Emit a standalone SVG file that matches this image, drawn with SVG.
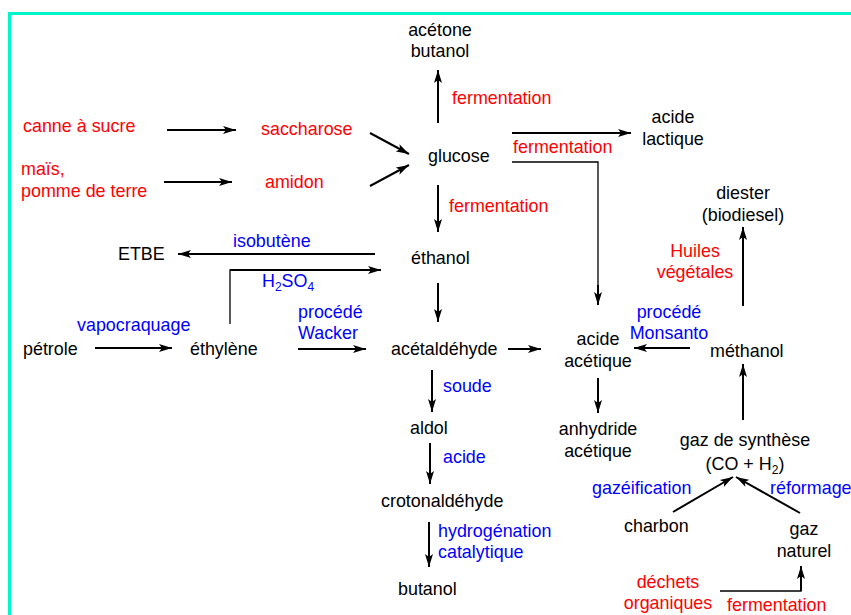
<svg xmlns="http://www.w3.org/2000/svg" width="851" height="615" viewBox="0 0 851 615">
<defs>
<marker id="ah" markerWidth="14" markerHeight="10" refX="13" refY="5" orient="auto" markerUnits="userSpaceOnUse">
<path d="M0,1 L13,5 L0,9 L3,5 Z" fill="#000"/>
</marker>
<style>
text{font-family:"Liberation Sans",Arial,Helvetica,sans-serif;font-size:17.9px;fill:#000}
.r{fill:#f00}
.b{fill:#0000ff}
.m{text-anchor:middle}
.a{stroke:#000;stroke-width:2;fill:none;marker-end:url(#ah)}
.t{stroke:#000;stroke-width:1.3;fill:none}
.sub{font-size:12px}
</style>
</defs>
<rect x="9.5" y="13.5" width="860" height="620" fill="#fff" stroke="#00f5cc" stroke-width="3"/>

<g id="connectors">
<line class="a" x1="438" y1="123" x2="438" y2="70"/>
<line class="a" x1="167" y1="130" x2="236" y2="130"/>
<line class="a" x1="164" y1="182" x2="232" y2="182"/>
<line class="a" x1="370" y1="133" x2="409" y2="154"/>
<line class="a" x1="370" y1="186" x2="409" y2="165"/>
<line class="a" x1="438" y1="185" x2="438" y2="232"/>
<line class="a" x1="512" y1="133" x2="631" y2="133"/>
<path class="t" d="M512,162 H598 V290"/>
<line class="a" x1="598" y1="285" x2="598" y2="305"/>
<line class="a" x1="375" y1="254" x2="178" y2="254"/>
<path class="t" d="M230,324 V270 H300"/>
<line class="a" x1="230" y1="270" x2="381" y2="270"/>
<line class="a" x1="438" y1="283" x2="438" y2="322"/>
<line class="a" x1="95" y1="348" x2="172" y2="348"/>
<line class="a" x1="298" y1="349" x2="366" y2="349"/>
<line class="a" x1="508" y1="349" x2="541" y2="349"/>
<line class="a" x1="690" y1="348" x2="634" y2="348"/>
<line class="a" x1="743" y1="306" x2="743" y2="227"/>
<line class="a" x1="743" y1="420" x2="743" y2="364"/>
<line class="a" x1="432" y1="370" x2="432" y2="412"/>
<line class="a" x1="430" y1="443" x2="430" y2="484"/>
<line class="a" x1="429" y1="522" x2="429" y2="567"/>
<line class="a" x1="598" y1="378" x2="598" y2="413"/>
<line class="a" x1="673" y1="512" x2="733" y2="477"/>
<line class="a" x1="800" y1="513" x2="736" y2="477"/>
<path class="t" d="M720,591 H801 V580"/>
<line class="a" x1="801" y1="591" x2="801" y2="566"/>
</g>

<g id="acetone-butanol"><text class="m" x="440" y="36">acétone</text><text class="m" x="440" y="57">butanol</text></g>
<g id="lbl-ferm1"><text class="r" x="452" y="104">fermentation</text></g>
<g id="canne"><text class="r" x="23" y="132">canne à sucre</text></g>
<g id="saccharose"><text class="r" x="261" y="135">saccharose</text></g>
<g id="glucose"><text x="428" y="162">glucose</text></g>
<g id="mais"><text class="r" x="21" y="175">maïs,</text><text class="r" x="21" y="197">pomme de terre</text></g>
<g id="amidon"><text class="r" x="265" y="188">amidon</text></g>
<g id="lbl-ferm2"><text class="r" x="449" y="212">fermentation</text></g>
<g id="lbl-ferm3"><text class="r" x="513" y="153">fermentation</text></g>
<g id="acide-lactique"><text class="m" x="673" y="123">acide</text><text class="m" x="673" y="145">lactique</text></g>
<g id="diester"><text class="m" x="743" y="199">diester</text><text class="m" x="743" y="221">(biodiesel)</text></g>
<g id="etbe"><text x="118" y="260">ETBE</text></g>
<g id="lbl-isobutene"><text class="b" x="233" y="247">isobutène</text></g>
<g id="ethanol"><text x="411" y="264">éthanol</text></g>
<g id="lbl-h2so4"><text class="b" x="262" y="287">H<tspan class="sub" dy="4">2</tspan><tspan dy="-4">SO</tspan><tspan class="sub" dy="4">4</tspan></text></g>
<g id="lbl-huiles"><text class="r m" x="695" y="257">Huiles</text><text class="r m" x="695" y="278">végétales</text></g>
<g id="lbl-vapo"><text class="b" x="77" y="331">vapocraquage</text></g>
<g id="lbl-wacker"><text class="b" x="298" y="318">procédé</text><text class="b" x="298" y="339">Wacker</text></g>
<g id="lbl-monsanto"><text class="b m" x="669" y="318">procédé</text><text class="b m" x="669" y="339">Monsanto</text></g>
<g id="petrole"><text x="23" y="355">pétrole</text></g>
<g id="ethylene"><text x="190" y="355">éthylène</text></g>
<g id="acetaldehyde"><text x="391" y="355">acétaldéhyde</text></g>
<g id="acide-acetique"><text class="m" x="598" y="345">acide</text><text class="m" x="598" y="367">acétique</text></g>
<g id="methanol"><text x="710" y="357">méthanol</text></g>
<g id="lbl-soude"><text class="b" x="443" y="392">soude</text></g>
<g id="aldol"><text x="410" y="434">aldol</text></g>
<g id="anhydride"><text class="m" x="598" y="435">anhydride</text><text class="m" x="598" y="457">acétique</text></g>
<g id="gaz-synthese"><text class="m" x="745" y="446">gaz de synthèse</text><text class="m" x="745" y="470">(CO + H<tspan class="sub" dy="4">2</tspan><tspan dy="-4">)</tspan></text></g>
<g id="lbl-acide"><text class="b" x="443" y="463">acide</text></g>
<g id="lbl-gazeif"><text class="b" x="592" y="494">gazéification</text></g>
<g id="lbl-reformage"><text class="b" x="770" y="494">réformage</text></g>
<g id="crotonaldehyde"><text x="381" y="507">crotonaldéhyde</text></g>
<g id="charbon"><text x="624" y="532">charbon</text></g>
<g id="gaz-naturel"><text class="m" x="804" y="535">gaz</text><text class="m" x="804" y="557">naturel</text></g>
<g id="lbl-hydro"><text class="b" x="438" y="537">hydrogénation</text><text class="b" x="438" y="558">catalytique</text></g>
<g id="dechets"><text class="r m" x="668" y="588">déchets</text><text class="r m" x="668" y="609">organiques</text></g>
<g id="butanol"><text x="398" y="595">butanol</text></g>
<g id="lbl-ferm4"><text class="r" x="727" y="611">fermentation</text></g>
</svg>
